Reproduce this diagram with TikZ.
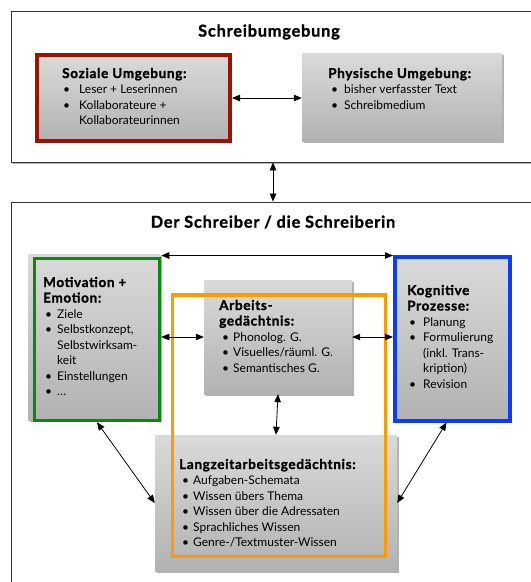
\documentclass[tikz,border=0pt]{standalone}
\usepackage{fontspec}
\setmainfont{Lato}
\newfontfamily\hvyfont{Lato}[BoldFeatures={FakeBold=1.3,LetterSpace=5}]
\usetikzlibrary{arrows.meta,shadows}
\definecolor{redb}{HTML}{9E1200}
\definecolor{greenb}{HTML}{0A8A0A}
\definecolor{blueb}{HTML}{0A3CFF}
\definecolor{orangeb}{HTML}{FF9A00}
\definecolor{gtop}{HTML}{DADADA}
\definecolor{gbot}{HTML}{B2B2B2}
\definecolor{framec}{HTML}{333333}
\newcommand{\hd}[1]{\multicolumn{2}{@{}l@{}}{\fontsize{13.5}{15.5}\selectfont\hvyfont\bfseries #1}}
\newcommand{\tb}{\textbullet}
\tikzset{
  shad/.style={drop shadow={shadow xshift=1.5pt, shadow yshift=-2pt, opacity=0.3, fill=black}},
  outerbox/.style={draw=framec, line width=0.9pt, fill=white, shad, inner sep=0pt},
  gbox/.style={top color=gtop, bottom color=gbot, shad, inner sep=0pt},
  frameonly/.style={inner sep=0pt},
  arr/.style={{Triangle[length=8pt,width=6.5pt]}-{Triangle[length=8pt,width=6.5pt]}, line width=0.8pt},
  txt/.style={anchor=base west, inner sep=0pt, font=\fontsize{12}{15.5}\selectfont},
  ttl/.style={inner sep=0pt, font=\fontsize{16.3}{18}\selectfont\hvyfont\bfseries},
}
\begin{document}
\begin{tikzpicture}[x=1pt,y=-1pt]
\clip (0,0) rectangle (531,582);
% outer boxes
\node[outerbox, minimum width=549pt, minimum height=151pt] (outerTop) at (285.5,86.5) {};
\node[outerbox, minimum width=549pt, minimum height=418pt] (outerBot) at (285.5,411) {};
\node[ttl] (t1) at (269,32) {Schreibumgebung};
\node[ttl] (t2) at (273,222) {Der Schreiber / die Schreiberin};
% top boxes
\node[gbox, draw=redb, line width=4pt, minimum width=193pt, minimum height=86pt] (soz) at (133.5,98) {};
\node[gbox, minimum width=200pt, minimum height=88pt] (phys) at (402,97) {};
% bottom boxes
\node[gbox, minimum width=132pt, minimum height=166pt] (motbg) at (94,337) {};
\node[frameonly, draw=greenb, line width=3.5pt, minimum width=125pt, minimum height=162pt] (mot) at (97,339.5) {};
\node[gbox, draw=blueb, line width=4pt, minimum width=115pt, minimum height=164pt] (kog) at (452.5,338.5) {};
\node[gbox, minimum width=148pt, minimum height=114pt] (arb) at (278,337) {};
\node[gbox, minimum width=242pt, minimum height=136pt] (lang) at (276,503) {};
\node[frameonly, draw=orangeb, line width=3.3pt, minimum width=213.4pt, minimum height=261.7pt] (orng) at (279,425.85) {};
% texts
\node[txt] (tsoz) at (62,78) {\begin{tabular}[t]{@{\hspace{1pt}}p{16pt}@{}l@{}}
\hd{Soziale Umgebung:}\\
\tb & Leser + Leserinnen\\
\tb & Kollaborateure +\\
 & Kollaborateurinnen
\end{tabular}};
\node[txt] (tphys) at (328,78) {\begin{tabular}[t]{@{\hspace{3pt}}p{13pt}@{}l@{}}
\hd{Physische Umgebung:}\\
\tb & bisher verfasster Text\\
\tb & Schreibmedium
\end{tabular}};
\node[txt] (tmot) at (43,287) {\begin{tabular}[t]{@{\hspace{2pt}}p{12pt}@{}l@{}}
\hd{Motivation +}\\
\hd{Emotion:}\\
\tb & Ziele\\
\tb & Selbstkonzept,\\
 & Selbstwirksam-\\
 & keit\\
\tb & Einstellungen\\
\tb & \dots
\end{tabular}};
\node[txt] (tarb) at (219,310) {\begin{tabular}[t]{@{\hspace{3pt}}p{11pt}@{}l@{}}
\hd{Arbeits-}\\
\hd{gedächtnis:}\\
\tb & Phonolog. G.\\
\tb & Visuelles/räuml. G.\\
\tb & Semantisches G.
\end{tabular}};
\node[txt] (tkog) at (407,295) {\begin{tabular}[t]{@{\hspace{2pt}}p{14pt}@{}l@{}}
\hd{Kognitive}\\
\hd{Prozesse:}\\
\tb & Planung\\
\tb & Formulierung\\
 & (inkl. Trans-\\
 & kription)\\
\tb & Revision
\end{tabular}};
\node[txt] (tlang) at (179,469) {\begin{tabular}[t]{@{\hspace{3pt}}p{11pt}@{}l@{}}
\hd{Langzeitarbeitsgedächtnis:}\\
\tb & Aufgaben-Schemata\\
\tb & Wissen übers Thema\\
\tb & Wissen über die Adressaten\\
\tb & Sprachliches Wissen\\
\tb & Genre-/Textmuster-Wissen
\end{tabular}};
% connectors
\coordinate (vx) at (273,0);
\draw[arr] (outerTop.south -| vx) -- (outerBot.north -| vx);
\draw[arr] (soz.east) -- (soz.east -| phys.west);
\draw[arr] ([yshift=-1pt]mot.north east |- kog.north west) -- ([yshift=-1pt]kog.north west);
\draw[arr] (arb.west -| mot.east) -- (arb.west);
\draw[arr] (arb.east) -- (arb.east -| kog.west);
\draw[arr] (arb.south) -- (lang.north);
\draw[arr] (mot.south) -- (lang.west);
\draw[arr] ([xshift=-6pt]kog.south) -- (lang.east);
\end{tikzpicture}
\end{document}
